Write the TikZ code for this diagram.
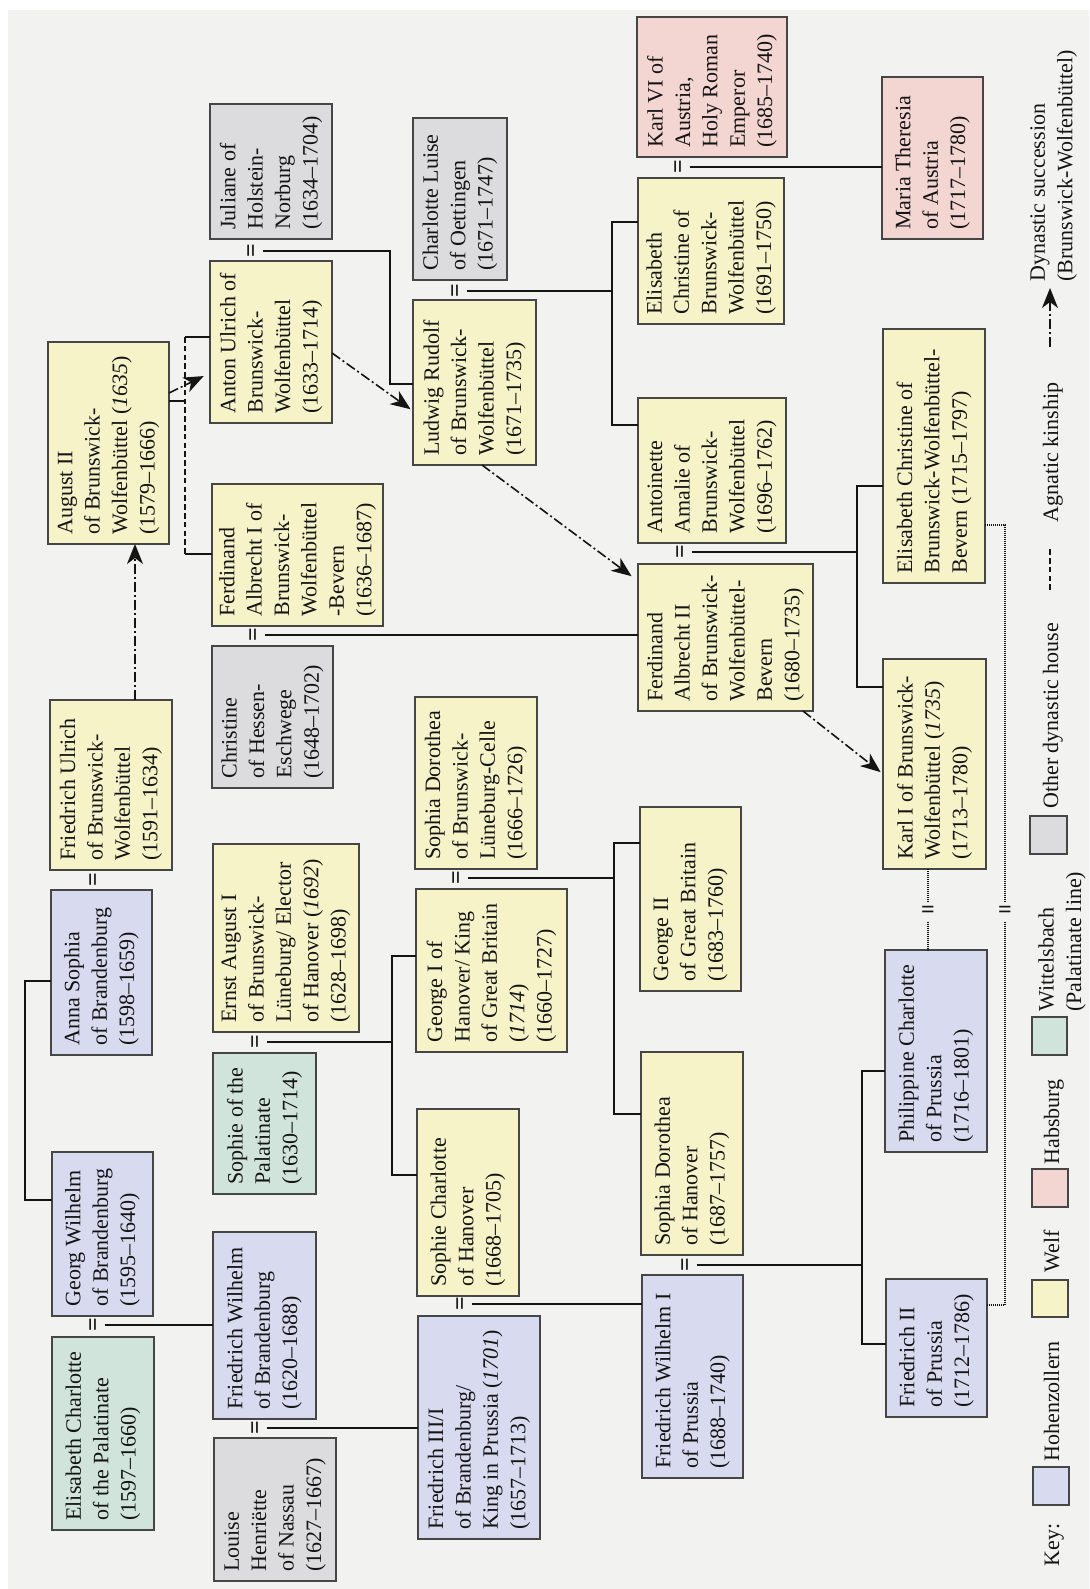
\documentclass[tikz,border=0pt]{standalone}
\usepackage{fontspec}
\setmainfont{Liberation Serif}
\usetikzlibrary{arrows.meta}
\definecolor{paper}{RGB}{242,242,241}
\definecolor{welf}{RGB}{246,243,201}
\definecolor{hohen}{RGB}{216,219,239}
\definecolor{witt}{RGB}{208,228,219}
\definecolor{habs}{RGB}{243,213,209}
\definecolor{other}{RGB}{220,220,222}
\definecolor{edge}{RGB}{70,70,70}
\definecolor{ink}{RGB}{20,20,20}
\tikzset{
 pbx/.style={draw=edge, line width=0.55pt, rotate=90, inner sep=0pt, outer sep=0pt},
 ptxt/.style={rotate=90, align=left, inner sep=0pt, text=ink, font=\fontsize{11}{13.7}\selectfont},
 conn/.style={draw=ink, line width=0.75pt},
 agn/.style={draw=ink, line width=0.75pt, dash pattern=on 2.8pt off 1.6pt},
 dotln/.style={draw=ink, line width=0.6pt, dash pattern=on 0.55pt off 0.45pt},
 succ/.style={draw=ink, line width=0.8pt, dash pattern=on 5pt off 1.5pt on 1pt off 1.5pt, -{Stealth[length=10pt,width=8pt,inset=3pt]}},
 eqv/.style={rotate=90, inner sep=1.8pt, text=ink, font=\fontsize{12}{12}\selectfont\bfseries},
 eqh/.style={inner sep=1.8pt, text=ink, font=\fontsize{12}{12}\selectfont\bfseries},
}
\newcommand{\pbox}[7]{%
  \node[pbx, fill=#2, minimum width={(#6-#4)*0.5pt}, minimum height={(#5-#3)*0.5pt}] (#1) at ({(#3+#5)/2},{(#4+#6)/2}) {};
  \node[ptxt, anchor=west] (#1t) at ({(#3+#5)/2},{#6-9}) {#7};}
\newcommand{\lbox}[6]{%
  \node[pbx, fill=#2, minimum width={(#6-#4)*0.5pt}, minimum height={(#5-#3)*0.5pt}] (#1) at ({(#3+#5)/2},{(#4+#6)/2}) {};}
\begin{document}
\begin{tikzpicture}[x=0.5pt,y=-0.5pt]
\fill[white] (0,0) rectangle (1089,1589);
\fill[paper] (8,10) rectangle (1089,1589);
\useasboundingbox (0,0) rectangle (1089,1589);

% ---------- boxes ----------
\pbox{ecpal}{witt}{52}{1337}{154}{1530}{Elisabeth Charlotte\\of the Palatinate\\(1597–1660)}
\pbox{gw}{hohen}{52}{1152}{153}{1316}{Georg Wilhelm\\of Brandenburg\\(1595–1640)}
\pbox{anna}{hohen}{51}{890}{152}{1055}{Anna Sophia\\of Brandenburg\\(1598–1659)}
\pbox{fu}{welf}{50}{700}{172}{870}{Friedrich Ulrich\\of Brunswick-\\Wolfenbüttel\\(1591–1634)}
\pbox{aug}{welf}{48}{342}{169}{544}{August II\\of Brunswick-\\Wolfenbüttel (\textit{1635})\\(1579–1666)}
\pbox{louise}{other}{214}{1438}{336}{1581}{Louise\\Henriëtte\\of Nassau\\(1627–1667)}
\pbox{fwb}{hohen}{213}{1232}{316}{1419}{Friedrich Wilhelm\\of Brandenburg\\(1620–1688)}
\pbox{sophpal}{witt}{213}{1053}{316}{1194}{Sophie of the\\Palatinate\\(1630–1714)}
\pbox{ea}{welf}{213}{844}{359}{1032}{Ernst August I\\of Brunswick-\\Lüneburg/ Elector\\of Hanover (\textit{1692})\\(1628–1698)}
\pbox{christ}{other}{212}{646}{333}{788}{Christine\\of Hessen-\\Eschwege\\(1648–1702)}
\pbox{fa1}{welf}{212}{484}{383}{626}{Ferdinand\\Albrecht I of\\Brunswick-\\Wolfenbüttel\\-Bevern\\(1636–1687)}
\pbox{anton}{welf}{210}{261}{332}{423}{Anton Ulrich of\\Brunswick-\\Wolfenbüttel\\(1633–1714)}
\pbox{jul}{other}{210}{104}{332}{239}{Juliane of\\Holstein-\\Norburg\\(1634–1704)}
\pbox{f3}{hohen}{418}{1316}{540}{1539}{Friedrich III/I\\of Brandenburg/\\King in Prussia (\textit{1701})\\(1657–1713)}
\pbox{sch}{welf}{417}{1109}{519}{1296}{Sophie Charlotte\\of Hanover\\(1668–1705)}
\pbox{g1}{welf}{416}{889}{567}{1052}{George I of\\Hanover/ King\\of Great Britain\\(\textit{1714})\\(1660–1727)}
\pbox{sdc}{welf}{415}{697}{537}{869}{Sophia Dorothea\\of Brunswick-\\Lüneburg-Celle\\(1666–1726)}
\pbox{cl}{other}{413}{118}{507}{280}{Charlotte Luise\\of Oettingen\\(1671–1747)}
\pbox{lud}{welf}{413}{300}{536}{465}{Ludwig Rudolf\\of Brunswick-\\Wolfenbüttel\\(1671–1735)}
\pbox{fw1}{hohen}{642}{1275}{743}{1478}{Friedrich Wilhelm I\\of Prussia\\(1688–1740)}
\pbox{sdh}{welf}{641}{1052}{743}{1255}{Sophia Dorothea\\of Hanover\\(1687–1757)}
\pbox{g2}{welf}{640}{807}{741}{991}{George II\\of Great Britain\\(1683–1760)}
\pbox{fa2}{welf}{638}{564}{813}{711}{Ferdinand\\Albrecht II\\of Brunswick-\\Wolfenbüttel-\\Bevern\\(1680–1735)}
\pbox{ant}{welf}{638}{398}{786}{543}{Antoinette\\Amalie of\\Brunswick-\\Wolfenbüttel\\(1696–1762)}
\pbox{ecbw}{welf}{638}{178}{784}{324}{Elisabeth\\Christine of\\Brunswick-\\Wolfenbüttel\\(1691–1750)}
\pbox{k6}{habs}{637}{17}{787}{157}{Karl VI of\\Austria,\\Holy Roman\\Emperor\\(1685–1740)}
\pbox{mt}{habs}{882}{77}{983}{239}{Maria Theresia\\of Austria\\(1717–1780)}
\pbox{ecbwb}{welf}{883}{329}{985}{583}{Elisabeth Christine of\\Brunswick-Wolfenbüttel-\\Bevern (1715–1797)}
\pbox{k1}{welf}{883}{659}{986}{869}{Karl I of Brunswick-\\Wolfenbüttel (\textit{1735})\\(1713–1780)}
\pbox{phil}{hohen}{885}{950}{987}{1152}{Philippine Charlotte\\of Prussia\\(1716–1801)}
\pbox{f2}{hohen}{886}{1279}{987}{1417}{Friedrich II\\of Prussia\\(1712–1786)}

% ---------- marriage signs ----------
\node[eqv] (e1) at (253,251) {=};
\node[eqv] (e2) at (457,291) {=};
\node[eqv] (e3) at (680,167) {=};
\node[eqv] (e4) at (255,635) {=};
\node[eqv] (e5) at (95,880) {=};
\node[eqv] (e6) at (257,1042) {=};
\node[eqv] (e7) at (458,878) {=};
\node[eqv] (e8) at (682,552) {=};
\node[eqv] (e9) at (95,1325) {=};
\node[eqv] (e10) at (257,1428) {=};
\node[eqv] (e11) at (462,1304) {=};
\node[eqv] (e12) at (687,1265) {=};
\node[eqh] (e13) at (928,912) {=};
\node[eqh] (e14) at (1005,912) {=};

% ---------- descent lines ----------
\draw[conn] (e1.south) -- (e1.south -| 390,0) |- (lud.north |- 0,384);
\draw[conn] (e2.south) -- (e2.south -| 612,0);
\draw[conn] (ecbw.north |- 0,222) -- (612,222) -- (612,425) -- (ant.north |- 0,425);
\draw[conn] (e3.south) -- (mt.north |- e3.south);
\draw[conn] (e4.south) -- (fa2.north |- e4.south);
\draw[conn] (e6.south) -- (e6.south -| 392,0);
\draw[conn] (g1.north |- 0,956) -- (392,956) -- (392,1175) -- (sch.north |- 0,1175);
\draw[conn] (e7.south) -- (e7.south -| 614,0);
\draw[conn] (g2.north |- 0,843) -- (614,843) -- (614,1114) -- (sdh.north |- 0,1114);
\draw[conn] (e8.south) -- (e8.south -| 857,0);
\draw[conn] (ecbwb.north |- 0,486) -- (857,486) -- (857,687) -- (k1.north |- 0,687);
\draw[conn] (e9.south) -- (fwb.north |- e9.south);
\draw[conn] (e10.south) -- (f3.north |- e10.south);
\draw[conn] (e11.south) -- (fw1.north |- e11.south);
\draw[conn] (e12.south) -- (e12.south -| 862,0);
\draw[conn] (phil.north |- 0,1071) -- (862,1071) -- (862,1344) -- (f2.north |- 0,1344);
\draw[conn] (anna.north |- 0,981) -- (25,981) -- (25,1200) -- (gw.north |- 0,1200);

% dotted marriages
\draw[dotln] (k1.west -| e13) -- (e13.north);
\draw[dotln] (e13.south) -- (phil.east -| e13);
\draw[dotln] (ecbwb.south |- 0,525) -| (e14.north);
\draw[dotln] (e14.south) |- (f2.south |- 0,1305);

% agnatic kinship
\draw[conn] (aug.south |- 0,401) -- (185,401);
\draw[agn] (185,337) -- (185,554);
\draw[conn] (185,337) -- (anton.north |- 0,337);
\draw[conn] (185,554) -- (fa1.north |- 0,554);

% dynastic succession
\draw[succ] (fu.east -| 135,0) -- (aug.west -| 135,0);
\draw[succ, shorten >=3.5pt] (aug.south |- 0,393) -- (anton.north |- 0,373);
\draw[succ, shorten >=1.5pt] (anton.south |- 0,353) -- (lud.north |- 0,411);
\draw[succ, shorten >=4pt] (lud.west -| 482,0) -- (fa2.north |- 0,581);
\draw[succ, shorten >=1.5pt] (fa2.west -| 803,0) -- (k1.north |- 0,774);

% ---------- key ----------
\node[ptxt, anchor=base west] (key) at (1059,1567) {Key:};
\lbox{kh}{hohen}{1033}{1467}{1069}{1505}
\node[ptxt, anchor=base west] (khl) at (1059,1462) {Hohenzollern};
\lbox{kw}{welf}{1032}{1280}{1068}{1317}
\node[ptxt, anchor=base west] (kwl) at (1059,1273) {Welf};
\lbox{ka}{habs}{1032}{1169}{1068}{1207}
\node[ptxt, anchor=base west] (kal) at (1059,1165) {Habsburg};
\lbox{kp}{witt}{1032}{1017}{1067}{1055}
\node[ptxt, anchor=north west] (kpl) at (1038,1012) {Wittelsbach\\(Palatinate line)};
\lbox{ko}{other}{1030}{816}{1067}{854}
\node[ptxt, anchor=base west] (kol) at (1058,809) {Other dynastic house};
\coordinate (kga) at (1050,590);
\coordinate (kgb) at (1050,548);
\draw[agn] (kga) -- (kgb);
\node[ptxt, anchor=base west] (kgl) at (1058,523) {Agnatic kinship};
\coordinate (ksa) at (1050,347);
\coordinate (ksb) at (1050,288);
\draw[succ] (ksa) -- (ksb);
\node[ptxt, anchor=north west] (ksl) at (1030,282) {Dynastic succession\\(Brunswick-Wolfenbüttel)};
\end{tikzpicture}
\end{document}
